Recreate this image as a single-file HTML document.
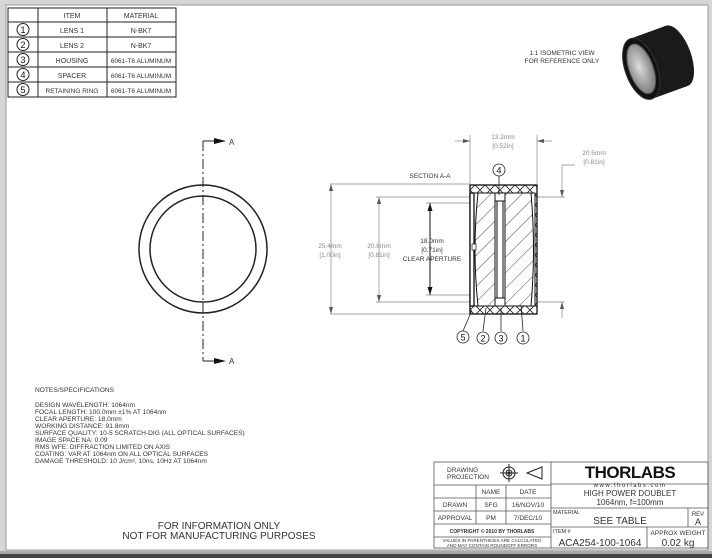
<!DOCTYPE html>
<html><head><meta charset="utf-8"><style>
html,body{margin:0;padding:0;background:#fff}
svg{display:block}
text{font-family:"Liberation Sans",sans-serif}
</style></head><body>
<svg width="712" height="558" viewBox="0 0 712 558" xmlns="http://www.w3.org/2000/svg">
<defs>
<pattern id="h" width="11" height="11" patternUnits="userSpaceOnUse" patternTransform="rotate(45)">
<line x1="0" y1="0" x2="0" y2="11" stroke="#222" stroke-width="0.8"/></pattern>
<pattern id="x" width="10" height="10" patternUnits="userSpaceOnUse">
<path d="M0 10L10 0M0 0L10 10" stroke="#222" stroke-width="0.8"/></pattern>
<radialGradient id="g" cx="0.45" cy="0.45" r="0.6"><stop offset="0" stop-color="#ddd"/><stop offset="1" stop-color="#777"/></radialGradient>
</defs>
<rect width="712" height="558" fill="#d6d6d6"/>
<rect x="6" y="5" width="702" height="545" fill="#fff" stroke="#999" stroke-width="1"/>
<rect x="0" y="554" width="712" height="4" fill="#444"/>
<rect x="0" y="551" width="712" height="3" fill="#aaa"/>

<!-- parts table -->
<g stroke="#222" stroke-width="1" fill="none">
<rect x="8" y="8" width="168" height="89"/>
<line x1="38" y1="8" x2="38" y2="97"/><line x1="107" y1="8" x2="107" y2="97"/>
<line x1="8" y1="22" x2="176" y2="22"/><line x1="8" y1="37" x2="176" y2="37"/>
<line x1="8" y1="52" x2="176" y2="52"/><line x1="8" y1="67" x2="176" y2="67"/>
<line x1="8" y1="82" x2="176" y2="82"/>
<circle cx="23" cy="29.5" r="6"/><circle cx="23" cy="44.5" r="6"/><circle cx="23" cy="59.5" r="6"/><circle cx="23" cy="74.5" r="6"/><circle cx="23" cy="89.5" r="6"/>
</g>
<g font-size="7" fill="#333" text-anchor="middle">
<text x="72" y="18">ITEM</text><text x="141" y="18">MATERIAL</text>
<text x="72" y="33">LENS 1</text><text x="141" y="33">N-BK7</text>
<text x="72" y="48">LENS 2</text><text x="141" y="48">N-BK7</text>
<text x="72" y="63">HOUSING</text><text x="141" y="63" font-size="6.5">6061-T6 ALUMINUM</text>
<text x="72" y="78">SPACER</text><text x="141" y="78" font-size="6.5">6061-T6 ALUMINUM</text>
<text x="72" y="93" font-size="6.5">RETAINING RING</text><text x="141" y="93" font-size="6.5">6061-T6 ALUMINUM</text>
<g font-size="9" fill="#111"><text x="23" y="33">1</text><text x="23" y="48">2</text><text x="23" y="63">3</text><text x="23" y="78">4</text><text x="23" y="93">5</text></g>
</g>

<!-- iso -->
<g font-size="6.5" fill="#333" text-anchor="middle"><text x="562" y="55">1:1 ISOMETRIC VIEW</text><text x="562" y="63">FOR REFERENCE ONLY</text></g>
<g transform="rotate(-20 660 62)">
<rect x="640" y="30" width="38" height="64" fill="#1a1a1a"/>
<ellipse cx="678" cy="62" rx="14" ry="32" fill="#1a1a1a"/>
<ellipse cx="640" cy="62" rx="16" ry="32" fill="#111" stroke="#333"/>
<ellipse cx="640" cy="62" rx="12" ry="26" fill="url(#g)" stroke="#555"/>
</g>

<!-- front view -->
<g stroke="#222" stroke-width="1.5" fill="none">
<circle cx="203" cy="249" r="64"/><circle cx="203" cy="249" r="53"/>
</g>
<line x1="203" y1="141" x2="203" y2="361" stroke="#222" stroke-width="1" stroke-dasharray="10,3,2,3"/>
<path d="M203 141H215M203 361H215" stroke="#222"/>
<path d="M214 138L226 141L214 144ZM214 358L226 361L214 364Z" fill="#111"/>
<text x="229" y="145" font-size="8" fill="#333">A</text><text x="229" y="364" font-size="8" fill="#333">A</text>

<!-- section -->
<g stroke="#888" stroke-width="0.7" fill="none">
<path d="M330 184H470M376 197H470M426 203H470M426 295H470M376 302H470M330 314H470"/>
<path d="M470 135V184M537 135V184M537 197H565M537 302H565"/>
<path d="M331 184V314M379 197V302"/>
<path d="M455 141H470M537 141H552M562 165V197M562 302V318M562 165H575"/>
</g>
<g fill="#555">
<path d="M331 184l-2 7h4zM331 314l-2 -7h4zM379 197l-2 7h4zM379 302l-2 -7h4z"/>
<path d="M470 141l-7 -2v4zM537 141l7 -2v4zM562 197l-2 -7h4zM562 302l-2 7h4z"/>
</g>
<path d="M430 203V295" stroke="#111" stroke-width="1"/>
<path d="M430 203l-2.5 8h5zM430 295l-2.5 -8h5z" fill="#111"/>
<g font-size="6.5" fill="#888" text-anchor="middle">
<text x="503" y="139">13.2mm</text><text x="503" y="148">[0.52in]</text>
<text x="594" y="155">20.5mm</text><text x="594" y="164">[0.81in]</text>
<text x="330" y="248">25.4mm</text><text x="330" y="257">[1.00in]</text>
<text x="379" y="248">20.6mm</text><text x="379" y="257">[0.81in]</text>
</g>
<g font-size="6.5" fill="#333" text-anchor="middle">
<text x="432" y="243">18.0mm</text><text x="432" y="252">[0.71in]</text><text x="432" y="261">CLEAR APERTURE</text>
<text x="430" y="178">SECTION A-A</text>
</g>
<!-- housing -->
<rect x="470" y="185" width="67" height="129" fill="url(#x)" stroke="#111" stroke-width="1.3"/>
<rect x="472" y="193" width="63" height="113" fill="#fff" stroke="#111" stroke-width="1"/>
<rect x="470" y="193" width="4" height="113" fill="#fff" stroke="#111" stroke-width="1.3"/>
<path d="M478 193Q472 249 478 306H495V193Z" fill="url(#h)" stroke="#111"/>
<rect x="495" y="193" width="10" height="8" fill="#fff" stroke="#111"/>
<rect x="495" y="298" width="10" height="8" fill="#fff" stroke="#111"/>
<rect x="497" y="201" width="6" height="97" fill="#fff" stroke="#111"/>
<path d="M505 193H531Q536 249 531 306H505Z" fill="url(#h)" stroke="#111"/>
<rect x="472" y="244" width="4" height="6" fill="#fff" stroke="#111" stroke-width="0.7"/>
<!-- balloons -->
<g stroke="#222" fill="#fff" stroke-width="0.8">
<line x1="499" y1="176" x2="499" y2="195"/>
<line x1="463" y1="331" x2="472" y2="310"/><line x1="483" y1="331" x2="486" y2="308"/>
<line x1="501" y1="331" x2="501" y2="308"/><line x1="523" y1="331" x2="521" y2="305"/>
<circle cx="499" cy="170" r="6"/><circle cx="463" cy="337" r="6"/><circle cx="483" cy="338" r="6"/><circle cx="501" cy="338" r="6"/><circle cx="523" cy="338" r="6"/>
</g>
<g font-size="9" fill="#111" text-anchor="middle">
<text x="499" y="173.5">4</text><text x="463" y="340.5">5</text><text x="483" y="341.5">2</text><text x="501" y="341.5">3</text><text x="523" y="341.5">1</text>
</g>

<!-- notes -->
<g font-size="6.6" fill="#333">
<text x="35" y="392">NOTES/SPECIFICATIONS</text>
<text x="35" y="407">DESIGN WAVELENGTH: 1064nm</text>
<text x="35" y="414">FOCAL LENGTH: 100.0mm ±1% AT 1064nm</text>
<text x="35" y="421">CLEAR APERTURE: 18.0mm</text>
<text x="35" y="428">WORKING DISTANCE: 91.8mm</text>
<text x="35" y="435">SURFACE QUALITY: 10-5 SCRATCH-DIG (ALL OPTICAL SURFACES)</text>
<text x="35" y="442">IMAGE SPACE NA: 0.09</text>
<text x="35" y="449">RMS WFE: DIFFRACTION LIMITED ON AXIS</text>
<text x="35" y="456">COATING: VAR AT 1064nm ON ALL OPTICAL SURFACES</text>
<text x="35" y="463">DAMAGE THRESHOLD: 10 J/cm², 10ns, 10Hz AT 1064nm</text>
</g>
<g font-size="10" fill="#333" text-anchor="middle">
<text x="219" y="529">FOR INFORMATION ONLY</text>
<text x="219" y="539">NOT FOR MANUFACTURING PURPOSES</text>
</g>

<!-- title block -->
<g stroke="#555" stroke-width="0.8" fill="none">
<rect x="434" y="462" width="274" height="86"/>
<line x1="551" y1="462" x2="551" y2="548"/>
<line x1="434" y1="485" x2="551" y2="485"/><line x1="434" y1="498" x2="551" y2="498"/>
<line x1="434" y1="511" x2="551" y2="511"/><line x1="434" y1="524" x2="551" y2="524"/>
<line x1="434" y1="537" x2="551" y2="537"/>
<line x1="476" y1="485" x2="476" y2="524"/><line x1="506" y1="485" x2="506" y2="524"/>
<line x1="551" y1="484" x2="708" y2="484"/>
<line x1="551" y1="508" x2="708" y2="508"/><line x1="551" y1="527" x2="708" y2="527"/>
<line x1="688" y1="508" x2="688" y2="527"/><line x1="647" y1="527" x2="647" y2="548"/>
</g>
<g stroke="#222" stroke-width="1" fill="none">
<circle cx="509" cy="473" r="6"/><circle cx="509" cy="473" r="3"/>
<path d="M500 473H518M509 464V482"/>
<path d="M527 473L542 467V479Z"/>
</g>
<circle cx="509" cy="473" r="1.5" fill="#222"/>
<g fill="#333" font-size="6.5">
<text x="447" y="472">DRAWING</text><text x="447" y="479">PROJECTION</text>
</g>
<g fill="#333" font-size="6.5" text-anchor="middle">
<text x="491" y="494">NAME</text><text x="528" y="494">DATE</text>
<text x="455" y="507">DRAWN</text><text x="491" y="507">SFG</text><text x="528" y="507">16/NOV/10</text>
<text x="455" y="520">APPROVAL</text><text x="491" y="520">PM</text><text x="528" y="520">7/DEC/10</text>
<text x="492" y="533" font-size="5" font-weight="bold">COPYRIGHT © 2010 BY THORLABS</text>
<text x="492" y="542" font-size="4.6">VALUES IN PARENTHESIS ARE CALCULATED</text>
<text x="492" y="547" font-size="4.6">AND MAY CONTAIN ROUNDOFF ERRORS</text>
<text x="630" y="478" font-size="17" font-weight="bold" fill="#111" letter-spacing="-0.5">THORLABS</text>
<text x="630" y="487" font-size="6" letter-spacing="1.5">www.thorlabs.com</text>
<text x="630" y="496" font-size="8">HIGH POWER DOUBLET</text>
<text x="630" y="505" font-size="8">1064nm, f=100mm</text>
<text x="620" y="524" font-size="10">SEE TABLE</text>
<text x="698" y="516" font-size="6">REV</text><text x="698" y="525" font-size="9">A</text>
<text x="600" y="546" font-size="10">ACA254-100-1064</text>
<text x="678" y="535" font-size="6.5">APPROX WEIGHT</text>
<text x="678" y="546" font-size="10">0.02 kg</text>
</g>
<g fill="#333" font-size="5.5"><text x="553" y="514">MATERIAL</text><text x="553" y="533">ITEM #</text></g>
</svg>
</body></html>
